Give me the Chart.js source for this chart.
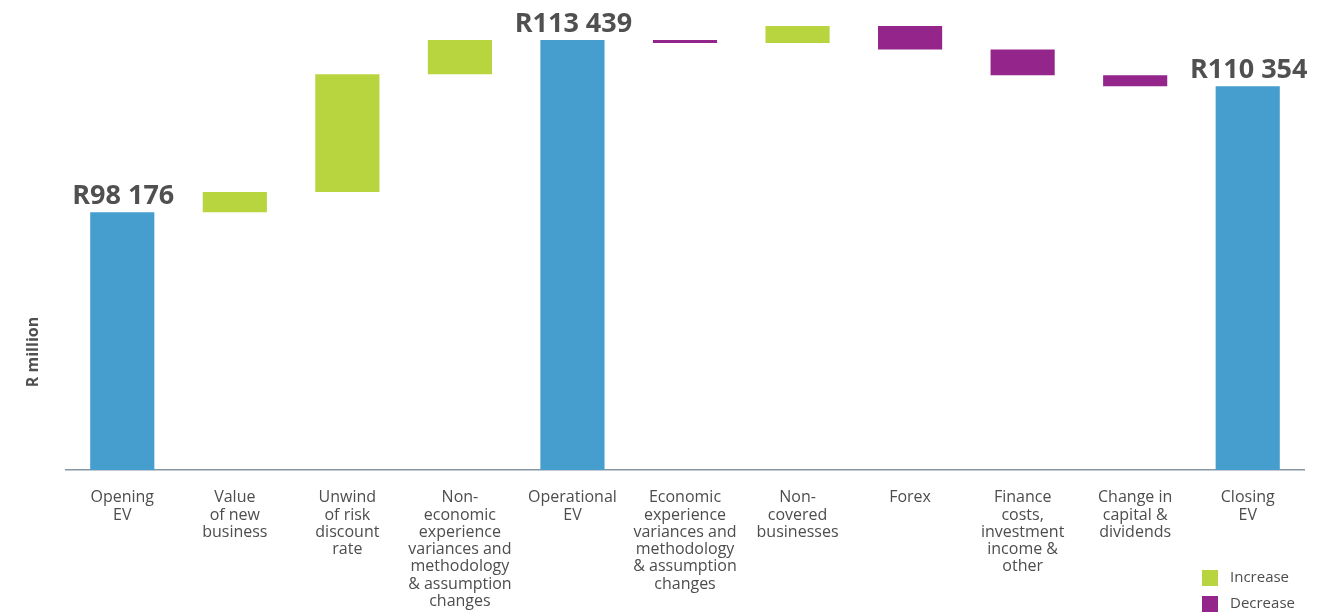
<!DOCTYPE html>
<html>
<head>
<meta charset="utf-8">
<script src="https://cdn.jsdelivr.net/npm/chart.js@4"></script>
<style>
  body { margin: 0; background: #ffffff; }
</style>
</head>
<body>
<canvas id="evChart" width="1318" height="613"></canvas>
<script>
// Dados do gráfico (R million)
const categories = [
    ['Opening', 'EV'],
    ['Value', 'of new', 'business'],
    ['Unwind', 'of risk', 'discount', 'rate'],
    ['Non-', 'economic', 'experience', 'variances and', 'methodology', '& assumption', 'changes'],
    ['Operational', 'EV'],
    ['Economic', 'experience', 'variances and', 'methodology', '& assumption', 'changes'],
    ['Non-', 'covered', 'businesses'],
    ['Forex'],
    ['Finance', 'costs,', 'investment', 'income &', 'other'],
    ['Change in', 'capital &', 'dividends'],
    ['Closing', 'EV']
];
const totals = [98176, null, null, null, 113439, null, null, null, null, null, 109333];
const increases = [null, [98176, 99961], [99961, 110404], [110404, 113439], null, null, [113171, 114689], null, null, null, null];
const decreases = [null, null, null, null, null, [113171, 113439], null, [112591, 114689], [110315, 112591], [109333, 110315], null];
const totalLabels = ['R98 176', null, null, null, 'R113 439', null, null, null, null, null, 'R110 354'];

const fontFamily = '"Open Sans", "DejaVu Sans", sans-serif';
const textColor = '#4d4d4d';

// Rótulos de valor acima das barras azuis
const totalLabelPlugin = {
    id: 'totalLabels',
    afterDatasetsDraw(chart) {
        const ctx = chart.ctx;
        const meta = chart.getDatasetMeta(0);
        ctx.save();
        ctx.font = 'bold 27px ' + fontFamily;
        ctx.fillStyle = '#505050';
        ctx.textAlign = 'center';
        ctx.textBaseline = 'alphabetic';
        meta.data.forEach((bar, i) => {
            if (totalLabels[i]) ctx.fillText(totalLabels[i], bar.x + 1, bar.y - 8);
        });
        ctx.restore();
    }
};

// Título do eixo Y e legenda no canto inferior direito
const extrasPlugin = {
    id: 'extras',
    afterDraw(chart) {
        const ctx = chart.ctx;
        ctx.save();
        ctx.translate(33, 352);
        ctx.rotate(-Math.PI / 2);
        ctx.font = 'bold 16px ' + fontFamily;
        ctx.fillStyle = '#505050';
        ctx.textAlign = 'center';
        ctx.textBaseline = 'middle';
        ctx.fillText('R million', 0, 0);
        ctx.restore();

        ctx.save();
        ctx.font = '15px ' + fontFamily;
        ctx.textBaseline = 'middle';
        ctx.textAlign = 'left';
        [1, 2].forEach((d, k) => {
            const ds = chart.data.datasets[d];
            const y = 578 + k * 26;
            ctx.fillStyle = ds.backgroundColor;
            ctx.fillRect(1202, y - 8, 16, 16);
            ctx.fillStyle = textColor;
            ctx.fillText(ds.label, 1230, y);
        });
        ctx.restore();
    }
};

const ctx = document.getElementById('evChart').getContext('2d');
const evChart = new Chart(ctx, {
    type: 'bar',
    data: {
        labels: categories,
        datasets: [{
            label: 'Total',
            data: totals,
            backgroundColor: '#469ecf',
        }, {
            label: 'Increase',
            data: increases,
            backgroundColor: '#b8d43e',
        }, {
            label: 'Decrease',
            data: decreases,
            backgroundColor: '#94268b',
        }]
    },
    options: {
        responsive: false,
        animation: false,
        datasets: {
            bar: {
                grouped: false,
                categoryPercentage: 1,
                barPercentage: 0.57,
                borderWidth: 0
            }
        },
        layout: {
            padding: { left: 66, right: 14, top: 10, bottom: -16 }
        },
        scales: {
            x: {
                grid: { display: false, drawTicks: false },
                border: { display: true, color: '#8596a6', width: 1.5 },
                ticks: {
                    color: textColor,
                    padding: 19,
                    maxRotation: 0,
                    autoSkip: false,
                    font: { family: fontFamily, size: 16, lineHeight: 1.08 }
                }
            },
            y: {
                display: false,
                min: 75325,
                max: 116100
            }
        },
        plugins: {
            legend: { display: false },
            tooltip: { enabled: false }
        }
    },
    plugins: [totalLabelPlugin, extrasPlugin]
});
</script>
</body>
</html>
